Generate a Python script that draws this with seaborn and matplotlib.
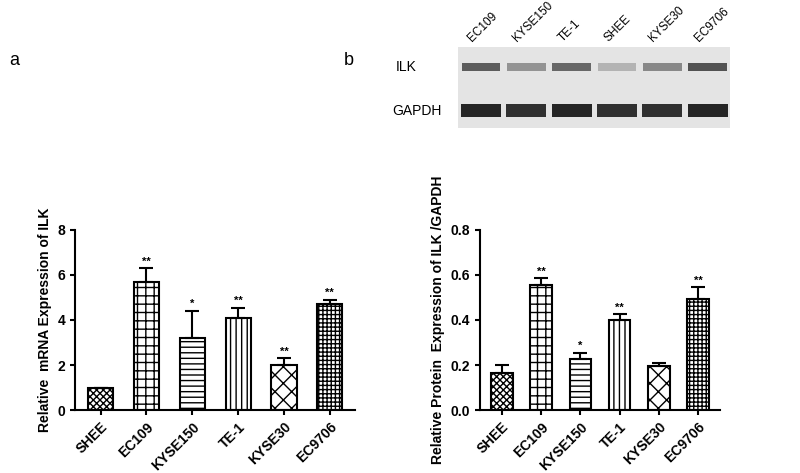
import matplotlib
matplotlib.use("Agg")
import matplotlib.pyplot as plt
import seaborn as sns
import pandas as pd
import numpy as np

cats = ["SHEE", "EC109", "KYSE150", "TE-1", "KYSE30", "EC9706"]
mrna = [1.0, 5.7, 3.2, 4.1, 2.0, 4.7]
mrna_err = [0.0, 0.6, 1.2, 0.45, 0.3, 0.2]
mrna_sig = ["", "**", "*", "**", "**", "**"]
prot = [0.165, 0.555, 0.225, 0.40, 0.195, 0.495]
prot_err = [0.035, 0.03, 0.03, 0.025, 0.015, 0.05]
prot_sig = ["", "**", "*", "**", "", "**"]
blot_lanes = ["EC109", "KYSE150", "TE-1", "SHEE", "KYSE30", "EC9706"]
ilk_intensity = [0.75, 0.5, 0.7, 0.35, 0.55, 0.8]
gapdh_intensity = [0.95, 0.9, 0.95, 0.9, 0.9, 0.95]
hatches = ["xxxxx", "++", "---", "|||", "xx", "++++"]

plt.rcParams["font.family"] = "Liberation Sans"
fig = plt.figure(figsize=(8, 4.73), dpi=100)

def panel(rect, vals, errs, sigs, ylim, yticks, fmt, ylabel):
    ax = fig.add_axes(rect)
    df = pd.DataFrame({"c": cats, "v": vals})
    sns.barplot(data=df, x="c", y="v", color="white", edgecolor="black",
                linewidth=1.5, width=0.55, ax=ax, errorbar=None)
    for p, h in zip(ax.patches, hatches):
        p.set_hatch(h)
    x = np.arange(len(cats))
    ax.errorbar(x, vals, yerr=[np.zeros(len(errs)), errs], fmt="none",
                ecolor="black", elinewidth=1.5, capsize=5, capthick=1.5)
    for xi, v, e, s in zip(x, vals, errs, sigs):
        if s:
            ax.text(xi, v + e + ylim[1] * 0.01, s, ha="center", va="bottom",
                    fontsize=8, fontweight="bold")
    ax.set_ylim(*ylim)
    ax.set_yticks(yticks)
    ax.set_yticklabels([fmt.format(t) for t in yticks], fontsize=10, fontweight="bold")
    ax.set_xticks(x)
    ax.set_xticklabels(cats, rotation=45, ha="right", rotation_mode="anchor",
                       fontsize=10, fontweight="bold")
    ax.set_xlabel("")
    ax.set_ylabel(ylabel, fontsize=10, fontweight="bold")
    sns.despine(ax=ax)
    for sp in ["left", "bottom"]:
        ax.spines[sp].set_linewidth(1.5)
    ax.tick_params(width=1.5)
    return ax

panel([0.094, 0.133, 0.35, 0.381], mrna, mrna_err, mrna_sig, (0, 8),
      [0, 2, 4, 6, 8], "{:.0f}", "Relative  mRNA Expression of ILK")
panel([0.6, 0.133, 0.30, 0.381], prot, prot_err, prot_sig, (0, 0.8),
      [0.0, 0.2, 0.4, 0.6, 0.8], "{:.1f}", "Relative Protein  Expression of ILK /GAPDH")

# western blot
bx = fig.add_axes([0.573, 0.73, 0.34, 0.17])
bx.set_facecolor("#e4e4e4")
bx.set_xlim(-0.5, 5.5)
bx.set_ylim(0, 1)
lx = np.arange(len(blot_lanes))
for xi, a in zip(lx, ilk_intensity):
    bx.bar(xi, 0.1, bottom=0.71, width=0.85, color=str(1 - a * 0.85), edgecolor="none")
for xi, a in zip(lx, gapdh_intensity):
    bx.bar(xi, 0.16, bottom=0.13, width=0.88, color=str(1 - a * 0.9), edgecolor="none")
bx.set_xticks([])
bx.set_yticks([])
for s in bx.spines.values():
    s.set_visible(False)
for xi, lab in zip(lx, blot_lanes):
    bx.text(xi - 0.15, 1.04, lab, rotation=45, ha="left", va="bottom", fontsize=8.5,
            rotation_mode="anchor", transform=bx.transData, clip_on=False)
fig.text(0.495, 0.858, "ILK", fontsize=10, va="center")
fig.text(0.49, 0.765, "GAPDH", fontsize=10, va="center")
fig.text(0.012, 0.873, "a", fontsize=13, va="center")
fig.text(0.43, 0.873, "b", fontsize=13, va="center")

fig.savefig("out.png", dpi=100)
